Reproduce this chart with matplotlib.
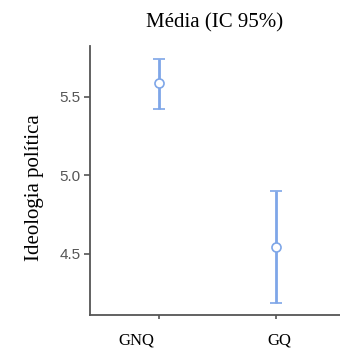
import matplotlib
matplotlib.use("Agg")
import matplotlib.pyplot as plt
from matplotlib.transforms import ScaledTranslation, blended_transform_factory

groups = ["GNQ", "GQ"]
means = [5.587, 4.545]
ci_lower = [5.42, 4.19]
ci_upper = [5.74, 4.90]
yticks = [4.5, 5.0, 5.5]

fig = plt.figure(figsize=(3.4, 3.63), dpi=100)
ax = fig.add_axes([0.2647, 0.1322, 0.7353, 0.7410])

color = "#7ea6e8"
x = list(range(len(groups)))
yerr = [[m - lo for m, lo in zip(means, ci_lower)], [hi - m for m, hi in zip(means, ci_upper)]]
ax.errorbar(x, means, yerr=yerr, fmt="o", color=color, ecolor=color,
            elinewidth=2, capsize=4.3, capthick=2,
            markersize=6.5, markerfacecolor="white", markeredgecolor=color, markeredgewidth=1.2)

ax.set_xlim(-0.595, 1.55)
ax.set_ylim(4.112, 5.822)
ax.set_xticks(x)
ax.set_xticklabels([])
ax.set_yticks(yticks)
ax.set_yticklabels([f"{t:.1f}" for t in yticks], family="Liberation Sans", fontsize=11, color="#555555")

# category labels, slightly offset as in reference
offsets_px = [-23, 3]
base = blended_transform_factory(ax.transData, ax.transAxes)
for xi, g, dx in zip(x, groups, offsets_px):
    ax.text(xi, 0, g, transform=base + ScaledTranslation(dx / 100, -25 / 100, fig.dpi_scale_trans),
            family="Liberation Serif", fontsize=12, ha="center", va="center")

for s in ["top", "right"]:
    ax.spines[s].set_visible(False)
for s in ["left", "bottom"]:
    ax.spines[s].set_color("#555555")
    ax.spines[s].set_linewidth(1.3)
ax.tick_params(axis="y", length=4, width=1.2, color="#555555", pad=3)
ax.tick_params(axis="x", length=3, width=1.2, color="#555555")

ax.set_ylabel("Ideologia política", family="Liberation Serif", fontsize=15)
ax.yaxis.set_label_coords(-0.184, 1 - (188 - 46) / 269)
fig.text(215/340, 1 - 23/363, "Média (IC 95%)", family="Liberation Serif", fontsize=15,
         ha="center", va="center")

fig.savefig("out.png", dpi=100)
